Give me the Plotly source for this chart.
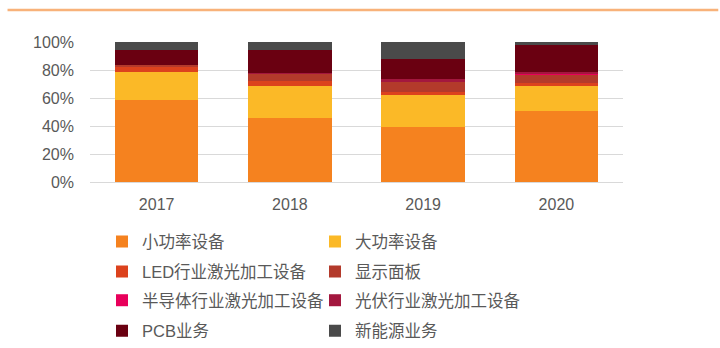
import plotly.graph_objects as go

years = ["2017", "2018", "2019", "2020"]
series_names = ["小功率设备", "大功率设备", "LED行业激光加工设备", "显示面板",
                "半导体行业激光加工设备", "光伏行业激光加工设备", "PCB业务", "新能源业务"]
small_power = [58.3, 45.7, 39.3, 51.0]
large_power = [20.0, 23.0, 22.9, 17.9]
led = [3.5, 3.8, 2.1, 1.9]
display_panel = [1.9, 5.2, 6.9, 6.0]
semiconductor = [0.0, 0.0, 0.0, 0.7]
photovoltaic = [0.0, 0.3, 2.4, 1.0]
pcb = [10.7, 16.0, 14.3, 19.3]
new_energy = [5.6, 6.0, 12.1, 2.2]
values = [small_power, large_power, led, display_panel, semiconductor, photovoltaic, pcb, new_energy]
colors = ["#F5821F", "#FBB927", "#DC421D", "#B33A2B", "#E8005B", "#A3173E", "#6A0011", "#4A4A4A"]
legend_ids = ["legend", "legend", "legend2", "legend2", "legend3", "legend3", "legend4", "legend4"]

FONT = "Liberation Sans, Arial, Noto Sans CJK SC, sans-serif"

fig = go.Figure()
for name, vals, col, lg in zip(series_names, values, colors, legend_ids):
    fig.add_trace(go.Bar(
        x=years, y=[v / 100 for v in vals], name=name, legend=lg,
        marker=dict(color=col, line=dict(width=0)),
        hoverinfo="x+y+name",
    ))

W, H = 720, 348
ml, mr, mt, mb = 89.5, W - 622.7, 42, 165.5
pw, ph = W - ml - mr, H - mt - mb

def px_x(X):
    return (X - ml) / pw

def px_y(Y):
    return (H - mb - Y) / ph

def cx(X):
    return X / W

def cy(Y):
    return 1 - Y / H

row_y = [241.7, 271.7, 300.5, 331.0]
leg_common = dict(orientation="h", entrywidth=168, entrywidthmode="pixels",
                  xref="container", yref="container",
                  x=cx(102), xanchor="left", yanchor="middle",
                  font=dict(family=FONT, size=16.5, color="#595959"),
                  bgcolor="rgba(0,0,0,0)", traceorder="normal")

fig.update_layout(
    width=W, height=H,
    margin=dict(l=ml, r=mr, t=mt, b=mb, pad=0, autoexpand=False),
    barmode="stack", bargap=0.375,
    paper_bgcolor="white", plot_bgcolor="white",
    font=dict(family=FONT, color="#595959"),
    xaxis=dict(showgrid=False, showline=True, linecolor="#D9D9D9", linewidth=1,
               ticks="", tickfont=dict(size=16, color="#595959"), ticklabelstandoff=8,
               fixedrange=True),
    yaxis=dict(range=[0, 1], tickvals=[0, 0.2, 0.4, 0.6, 0.8, 1.0], tickformat=".0%",
               showgrid=True, gridcolor="#D9D9D9", gridwidth=1, zeroline=False,
               showline=False, ticks="", tickfont=dict(size=16, color="#595959"),
               ticklabelstandoff=15, fixedrange=True),
    legend=dict(leg_common, y=cy(row_y[0])),
    legend2=dict(leg_common, y=cy(row_y[1])),
    legend3=dict(leg_common, y=cy(row_y[2])),
    legend4=dict(leg_common, y=cy(row_y[3])),
    shapes=[dict(type="line", xref="paper", yref="paper",
                 x0=px_x(7), x1=px_x(718), y0=px_y(10), y1=px_y(10),
                 line=dict(color="#F8B27A", width=2.5))],
    showlegend=True,
)

fig.write_html("out.html")
